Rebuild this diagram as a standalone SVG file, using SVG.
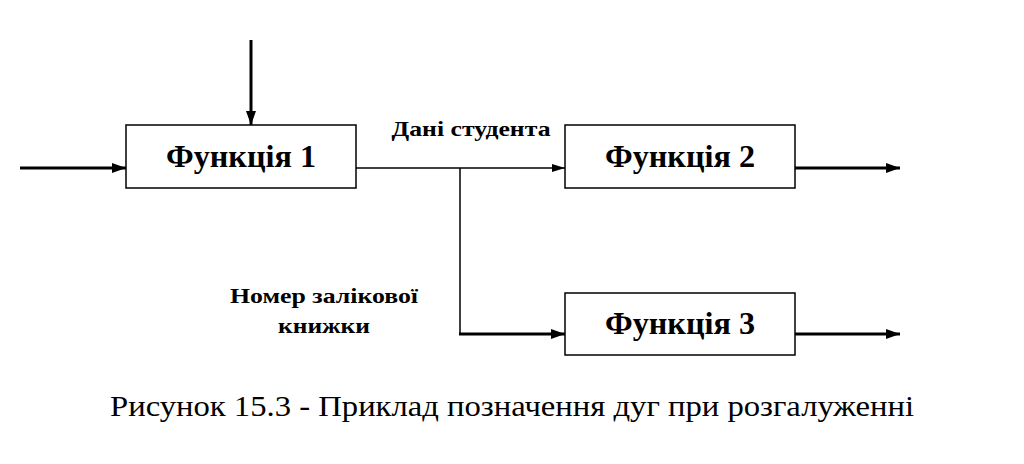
<svg xmlns="http://www.w3.org/2000/svg" width="1024" height="464" viewBox="0 0 1024 464">
<style>
.box{fill:#fff;stroke:#000;stroke-width:1.5}
text{font-family:"Liberation Serif","DejaVu Serif Condensed","DejaVu Serif","Noto Serif",serif}
.bt{font-weight:bold;font-size:31px;text-anchor:middle}
.lb{font-weight:bold;font-size:22px;text-anchor:middle}
.cap{font-size:30px;text-anchor:middle}
.thick{stroke:#000;stroke-width:3;fill:none}
.thin{stroke:#000;stroke-width:1.5;fill:none}
</style>
<defs>
<marker id="ah" markerWidth="14" markerHeight="10" refX="14" refY="5" orient="auto" markerUnits="userSpaceOnUse">
<path d="M0,0 L14,5 L0,10 Z" fill="#000"/>
</marker>
<marker id="ahs" markerWidth="13" markerHeight="8" refX="13" refY="4" orient="auto" markerUnits="userSpaceOnUse">
<path d="M0,0 L13,4 L0,8 Z" fill="#000"/>
</marker>
</defs>
<rect width="1024" height="464" fill="#fff"/>
<g id="connectors">
<line class="thick" x1="20" y1="168" x2="126" y2="168" marker-end="url(#ah)"/>
<line class="thick" x1="251" y1="40" x2="251" y2="125" marker-end="url(#ah)"/>
<line class="thin" x1="356" y1="168" x2="565" y2="168" marker-end="url(#ahs)"/>
<polyline class="thin" points="460,168 460,334"/>
<line class="thick" x1="459" y1="334" x2="565" y2="334" marker-end="url(#ah)"/>
<line class="thick" x1="795" y1="168" x2="900" y2="168" marker-end="url(#ah)"/>
<line class="thick" x1="795" y1="334" x2="900" y2="334" marker-end="url(#ah)"/>
</g>
<g id="node1">
<rect class="box" x="126" y="125" width="230" height="63"/>
<text class="bt" x="241" y="167" textLength="150" lengthAdjust="spacingAndGlyphs">Функція 1</text>
</g>
<g id="node2">
<rect class="box" x="565" y="125" width="230" height="63"/>
<text class="bt" x="680" y="167" textLength="150" lengthAdjust="spacingAndGlyphs">Функція 2</text>
</g>
<g id="node3">
<rect class="box" x="565" y="293" width="230" height="62"/>
<text class="bt" x="680" y="334" textLength="150" lengthAdjust="spacingAndGlyphs">Функція 3</text>
</g>
<g id="labels">
<text class="lb" x="471" y="136" textLength="159" lengthAdjust="spacingAndGlyphs">Дані студента</text>
<text class="lb" x="324" y="303" textLength="188" lengthAdjust="spacingAndGlyphs">Номер залікової</text>
<text class="lb" x="324" y="333" textLength="92" lengthAdjust="spacingAndGlyphs">книжки</text>
</g>
<text class="cap" x="512" y="416" textLength="804" lengthAdjust="spacingAndGlyphs">Рисунок 15.3 - Приклад позначення дуг при розгалуженні</text>
</svg>
